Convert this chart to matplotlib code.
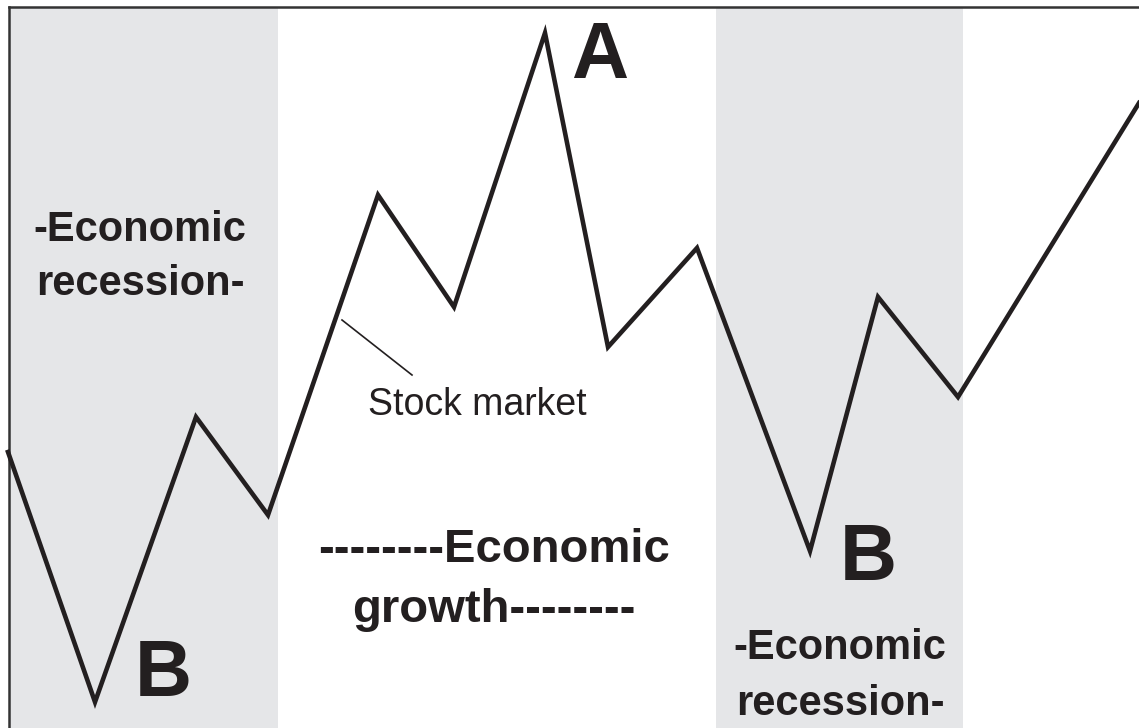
import matplotlib.pyplot as plt

# ---------------------------------------------------------
# data (pixel-like units, y grows downward)
# ---------------------------------------------------------
market_x = [8, 95, 196, 268, 378, 454, 545, 608, 697, 810, 878, 958, 1139]
market_y = [452, 702, 417, 515, 195, 307, 33, 347, 248, 551, 297, 397, 103]

recession_start = [10, 716]
recession_end = [278, 963]

# leader line from the curve to the label
pointer_x = [342, 412]
pointer_y = [320, 375]

recession_label = '-Economic\nrecession-'
growth_label = '--------Economic\ngrowth--------'
market_label = 'Stock market'

ink = '#231f20'
shade = '#e5e6e8'

plt.rcParams['font.family'] = ['Liberation Sans', 'DejaVu Sans']

fig = plt.figure(figsize=(11.39, 7.28), dpi=100)
ax = fig.add_axes([9 / 1139, 0, 1130 / 1139, 721 / 728])
ax.set_xlim(9, 1139)
ax.set_ylim(728, 7)
ax.set_xticks([])
ax.set_yticks([])
for side in ['right', 'bottom']:
    ax.spines[side].set_visible(False)
for side in ['left', 'top']:
    ax.spines[side].set_linewidth(1.8)
    ax.spines[side].set_color('#333333')

# recession bands
for x0, x1 in zip(recession_start, recession_end):
    ax.axvspan(x0, x1, color=shade, lw=0, zorder=0)

# stock market path
ax.plot(market_x, market_y, color=ink, lw=3.3, solid_joinstyle='miter',
        clip_on=False, zorder=3)
ax.plot(pointer_x, pointer_y, color=ink, lw=1.2, zorder=3)

# labels
ax.text(140, 257, recession_label, ha='center', va='center', fontsize=30,
        fontweight='bold', color=ink, linespacing=1.45)
ax.text(840, 676, recession_label, ha='center', va='center', fontsize=30,
        fontweight='bold', color=ink, linespacing=1.5)
ax.text(494, 580, growth_label, ha='center', va='center', fontsize=34,
        fontweight='bold', color=ink, linespacing=1.5)

ax.text(600, 58, 'A', ha='center', va='center', fontsize=57,
        fontweight='bold', color=ink)
ax.text(163, 676, 'B', ha='center', va='center', fontsize=57,
        fontweight='bold', color=ink)
ax.text(868, 559, 'B', ha='center', va='center', fontsize=57,
        fontweight='bold', color=ink)

ax.text(368, 405, market_label, ha='left', va='center', fontsize=27,
        color=ink)

fig.savefig('out.png', dpi=100)
